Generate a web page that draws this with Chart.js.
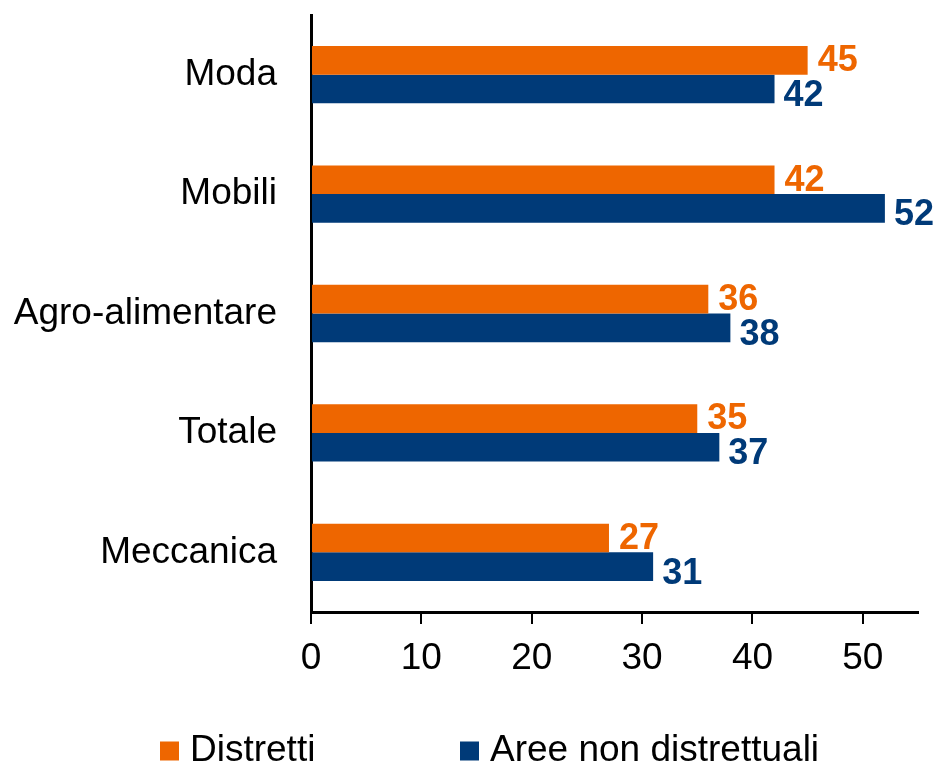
<!DOCTYPE html>
<html lang="it">
<head>
<meta charset="utf-8">
<title>Distretti e aree non distrettuali</title>
<script src="https://cdn.jsdelivr.net/npm/chart.js@4/dist/chart.umd.min.js"></script>
<style>
    html, body { margin: 0; padding: 0; background: #fff; }
    #wrap { position: relative; width: 937px; height: 764px; }
</style>
</head>
<body>
<div id="wrap"><canvas id="chart"></canvas></div>
<script>
// --- data ---
const sectors = ['Moda', 'Mobili', 'Agro-alimentare', 'Totale', 'Meccanica'];
const distretti = [45, 42, 36, 35, 27];
const areeNonDistrettuali = [42, 52, 38, 37, 31];
const seriesNames = ['Distretti', 'Aree non distrettuali'];
const xTicks = [0, 10, 20, 30, 40, 50];

const ORANGE = '#EE6600';
const BLUE = '#003A78';
const FONT = "'Liberation Sans', Arial, Helvetica, sans-serif";

// value labels at the end of each bar
const valueLabels = {
    id: 'valueLabels',
    afterDatasetsDraw(chart, args, opts) {
        const ctx = chart.ctx;
        ctx.save();
        ctx.font = 'bold 36px ' + FONT;
        ctx.textAlign = 'left';
        ctx.textBaseline = 'middle';
        chart.data.datasets.forEach((ds, i) => {
            const meta = chart.getDatasetMeta(i);
            const off = opts.offsets[i];
            ctx.fillStyle = ds.backgroundColor;
            meta.data.forEach((bar, j) => {
                ctx.fillText(String(ds.data[j]), bar.x + off.x, bar.y + off.y);
            });
        });
        ctx.restore();
    }
};

// legend row under the axis, items placed at fixed x
const bottomLegend = {
    id: 'bottomLegend',
    afterDraw(chart, args, opts) {
        const ctx = chart.ctx;
        ctx.save();
        ctx.font = '37px ' + FONT;
        ctx.textAlign = 'left';
        ctx.textBaseline = 'middle';
        chart.data.datasets.forEach((ds, i) => {
            const x = opts.itemX[i];
            const y = opts.y;
            ctx.fillStyle = ds.backgroundColor;
            ctx.fillRect(x, y - opts.box / 2, opts.box, opts.box);
            ctx.fillStyle = '#000';
            ctx.fillText(ds.label, x + opts.box + opts.gap, y);
        });
        ctx.restore();
    }
};

new Chart(document.getElementById('chart'), {
    type: 'bar',
    data: {
        labels: sectors,
        datasets: [
            { label: seriesNames[0], data: distretti, backgroundColor: ORANGE, borderWidth: 0 },
            { label: seriesNames[1], data: areeNonDistrettuali, backgroundColor: BLUE, borderWidth: 0 }
        ]
    },
    options: {
        indexAxis: 'y',
        responsive: true,
        maintainAspectRatio: false,
        animation: false,
        devicePixelRatio: 1,
        datasets: { bar: { categoryPercentage: 0.48, barPercentage: 1 } },
        layout: { padding: { left: 0, top: 15, right: 19, bottom: 73 } },
        scales: {
            y: {
                afterFit(scale) {
                    scale.width = 311;
                    scale.paddingTop = 0;
                    scale.paddingBottom = 0;
                },
                grid: { display: false, drawTicks: false },
                border: { display: true, color: '#000', width: 3 },
                ticks: { color: '#000', padding: 34, font: { family: FONT, size: 37 } }
            },
            x: {
                min: 0,
                max: 55,
                afterFit(scale) {
                    scale.height = 79;
                    scale.paddingLeft = 0;
                    scale.paddingRight = 0;
                },
                afterBuildTicks(scale) { scale.ticks = xTicks.map(v => ({ value: v })); },
                grid: { drawOnChartArea: false, drawTicks: true, tickLength: 12, color: '#000', lineWidth: 2 },
                border: { display: true, color: '#000', width: 3 },
                ticks: { color: '#000', padding: 13, font: { family: FONT, size: 37 } }
            }
        },
        plugins: {
            legend: { display: false },
            tooltip: { enabled: false },
            valueLabels: { offsets: [{ x: 10, y: 1 }, { x: 9, y: 7 }] },
            bottomLegend: { itemX: [160, 460], y: 751, box: 19, gap: 11 }
        }
    },
    plugins: [valueLabels, bottomLegend]
});
</script>
</body>
</html>
